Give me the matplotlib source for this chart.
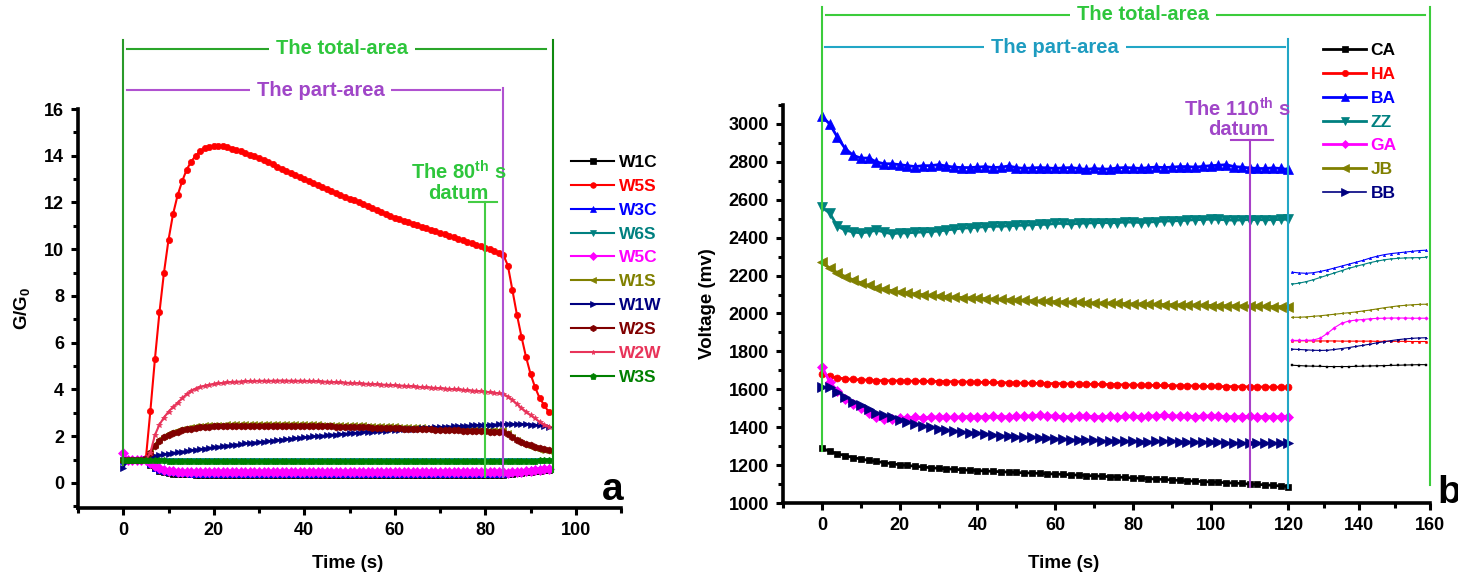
import matplotlib
matplotlib.use('Agg')
import numpy as np
import matplotlib.pyplot as plt
from matplotlib.ticker import MultipleLocator
from matplotlib import font_manager

# ---------------- fonts ----------------
try:
    font_manager.findfont('Liberation Sans Narrow:bold', fallback_to_default=False)
    NARROW = 'Liberation Sans Narrow'
    ANN_SIZE = 15.5
except ValueError:
    NARROW = 'Liberation Sans'
    ANN_SIZE = 14.5

plt.rcParams['font.family'] = ['Liberation Sans', 'DejaVu Sans']
plt.rcParams['font.weight'] = 'bold'
plt.rcParams['axes.labelweight'] = 'bold'
plt.rcParams['mathtext.fontset'] = 'custom'
plt.rcParams['mathtext.rm'] = NARROW + ':bold'
plt.rcParams['mathtext.it'] = NARROW + ':bold'
plt.rcParams['mathtext.bf'] = NARROW + ':bold'

# ============================================================
# (a) G/G0 response, sampled every second
# ============================================================
t_a = np.arange(0, 95)

W1C = [1.00, 1.00, 1.00, 1.00, 1.00, 1.00, 0.78, 0.62, 0.52, 0.46,
       0.42, 0.40, 0.39, 0.38, 0.37, 0.37, 0.36, 0.36, 0.36, 0.36,
       0.36, 0.36, 0.36, 0.36, 0.36, 0.36, 0.36, 0.36, 0.36, 0.36,
       0.36, 0.36, 0.36, 0.36, 0.36, 0.36, 0.36, 0.36, 0.36, 0.36,
       0.36, 0.36, 0.36, 0.36, 0.36, 0.36, 0.36, 0.36, 0.36, 0.36,
       0.36, 0.36, 0.36, 0.36, 0.36, 0.36, 0.36, 0.36, 0.36, 0.36,
       0.36, 0.36, 0.36, 0.36, 0.36, 0.36, 0.36, 0.36, 0.36, 0.36,
       0.36, 0.36, 0.36, 0.36, 0.36, 0.36, 0.36, 0.36, 0.36, 0.36,
       0.36, 0.36, 0.36, 0.36, 0.36, 0.38, 0.40, 0.42, 0.44, 0.46,
       0.48, 0.50, 0.52, 0.54, 0.56]
W5S = [1.00, 1.00, 1.00, 1.00, 1.00, 1.05, 3.10, 5.30, 7.30, 9.00,
       10.40, 11.50, 12.30, 12.90, 13.40, 13.75, 14.00, 14.20, 14.32, 14.39,
       14.42, 14.42, 14.40, 14.36, 14.31, 14.25, 14.19, 14.12, 14.05, 13.98,
       13.90, 13.81, 13.72, 13.63, 13.54, 13.45, 13.36, 13.27, 13.18, 13.09,
       13.00, 12.91, 12.83, 12.74, 12.66, 12.58, 12.49, 12.41, 12.33, 12.25,
       12.17, 12.09, 12.00, 11.92, 11.84, 11.76, 11.68, 11.59, 11.51, 11.43,
       11.35, 11.28, 11.21, 11.15, 11.08, 11.02, 10.96, 10.89, 10.83, 10.77,
       10.70, 10.64, 10.58, 10.51, 10.45, 10.38, 10.32, 10.25, 10.19, 10.12,
       10.06, 9.99, 9.92, 9.84, 9.76, 9.30, 8.25, 7.20, 6.26, 5.40,
       4.67, 4.10, 3.64, 3.34, 3.04]
W3C = [0.95, 1.00, 1.00, 1.00, 1.00, 1.00, 0.80, 0.66, 0.57, 0.51,
       0.47, 0.45, 0.43, 0.42, 0.41, 0.40, 0.40, 0.40, 0.40, 0.40,
       0.40, 0.40, 0.40, 0.40, 0.40, 0.40, 0.40, 0.40, 0.40, 0.40,
       0.40, 0.40, 0.40, 0.40, 0.40, 0.40, 0.40, 0.40, 0.40, 0.40,
       0.40, 0.40, 0.40, 0.40, 0.40, 0.40, 0.40, 0.40, 0.40, 0.40,
       0.40, 0.40, 0.40, 0.40, 0.40, 0.40, 0.40, 0.40, 0.40, 0.40,
       0.40, 0.40, 0.40, 0.40, 0.40, 0.40, 0.40, 0.40, 0.40, 0.40,
       0.40, 0.40, 0.40, 0.40, 0.40, 0.40, 0.40, 0.40, 0.40, 0.40,
       0.40, 0.40, 0.40, 0.40, 0.40, 0.44, 0.47, 0.50, 0.53, 0.56,
       0.58, 0.60, 0.62, 0.64, 0.65]
W6S = [1.00, 1.00, 1.00, 1.00, 1.00, 1.00, 0.98, 0.97, 0.96, 0.96,
       0.95, 0.95, 0.94, 0.94, 0.94, 0.94, 0.93, 0.93, 0.93, 0.93,
       0.93, 0.93, 0.93, 0.93, 0.93, 0.93, 0.93, 0.93, 0.93, 0.93,
       0.93, 0.93, 0.93, 0.93, 0.93, 0.93, 0.93, 0.93, 0.93, 0.93,
       0.93, 0.93, 0.93, 0.93, 0.93, 0.93, 0.93, 0.93, 0.93, 0.93,
       0.93, 0.93, 0.93, 0.93, 0.93, 0.93, 0.93, 0.93, 0.93, 0.93,
       0.93, 0.93, 0.93, 0.93, 0.93, 0.93, 0.93, 0.93, 0.93, 0.93,
       0.93, 0.93, 0.93, 0.93, 0.93, 0.93, 0.93, 0.93, 0.93, 0.93,
       0.93, 0.93, 0.93, 0.93, 0.93, 0.94, 0.94, 0.94, 0.95, 0.95,
       0.95, 0.95, 0.96, 0.96, 0.96]
W5C = [1.30, 1.00, 1.00, 1.00, 1.00, 1.00, 0.85, 0.72, 0.62, 0.56,
       0.52, 0.50, 0.48, 0.47, 0.46, 0.46, 0.45, 0.45, 0.45, 0.45,
       0.45, 0.45, 0.45, 0.45, 0.45, 0.45, 0.45, 0.45, 0.45, 0.45,
       0.45, 0.45, 0.45, 0.45, 0.45, 0.45, 0.45, 0.45, 0.45, 0.45,
       0.45, 0.45, 0.45, 0.45, 0.45, 0.45, 0.45, 0.45, 0.45, 0.45,
       0.45, 0.45, 0.45, 0.45, 0.45, 0.45, 0.45, 0.45, 0.45, 0.45,
       0.45, 0.45, 0.45, 0.45, 0.45, 0.45, 0.45, 0.45, 0.45, 0.45,
       0.45, 0.45, 0.45, 0.45, 0.45, 0.45, 0.45, 0.45, 0.45, 0.45,
       0.45, 0.45, 0.45, 0.45, 0.45, 0.43, 0.45, 0.47, 0.49, 0.51,
       0.53, 0.55, 0.57, 0.59, 0.60]
W1S = [1.00, 1.00, 1.00, 1.00, 1.00, 1.02, 1.35, 1.65, 1.87, 2.02,
       2.12, 2.20, 2.27, 2.32, 2.36, 2.40, 2.43, 2.45, 2.47, 2.48,
       2.49, 2.50, 2.50, 2.51, 2.51, 2.52, 2.52, 2.52, 2.52, 2.52,
       2.53, 2.53, 2.53, 2.53, 2.53, 2.53, 2.53, 2.53, 2.52, 2.52,
       2.52, 2.52, 2.51, 2.51, 2.50, 2.50, 2.49, 2.49, 2.48, 2.48,
       2.47, 2.47, 2.46, 2.46, 2.45, 2.45, 2.44, 2.44, 2.43, 2.43,
       2.42, 2.41, 2.41, 2.40, 2.39, 2.38, 2.38, 2.37, 2.36, 2.35,
       2.35, 2.34, 2.33, 2.33, 2.32, 2.31, 2.30, 2.30, 2.29, 2.28,
       2.28, 2.27, 2.27, 2.26, 2.26, 2.12, 1.95, 1.82, 1.71, 1.62,
       1.55, 1.48, 1.43, 1.39, 1.35]
W1W = [0.65, 1.00, 1.00, 1.00, 1.00, 1.02, 1.12, 1.17, 1.20, 1.23,
       1.26, 1.29, 1.31, 1.34, 1.37, 1.40, 1.42, 1.45, 1.47, 1.50,
       1.53, 1.55, 1.58, 1.60, 1.62, 1.64, 1.66, 1.69, 1.71, 1.73,
       1.75, 1.77, 1.79, 1.81, 1.83, 1.85, 1.87, 1.89, 1.91, 1.93,
       1.95, 1.97, 1.99, 2.00, 2.02, 2.04, 2.06, 2.07, 2.09, 2.11,
       2.12, 2.14, 2.15, 2.17, 2.18, 2.20, 2.21, 2.23, 2.24, 2.26,
       2.27, 2.28, 2.30, 2.31, 2.32, 2.33, 2.35, 2.36, 2.37, 2.38,
       2.39, 2.40, 2.41, 2.42, 2.43, 2.44, 2.45, 2.46, 2.47, 2.48,
       2.48, 2.49, 2.50, 2.51, 2.52, 2.52, 2.52, 2.52, 2.51, 2.51,
       2.50, 2.48, 2.46, 2.43, 2.40]
W2S = [1.00, 1.00, 1.00, 1.00, 1.00, 1.02, 1.30, 1.60, 1.80, 1.95,
       2.05, 2.13, 2.20, 2.25, 2.29, 2.33, 2.36, 2.38, 2.40, 2.41,
       2.42, 2.43, 2.43, 2.44, 2.44, 2.44, 2.45, 2.45, 2.45, 2.45,
       2.45, 2.45, 2.45, 2.45, 2.45, 2.45, 2.45, 2.45, 2.45, 2.45,
       2.45, 2.44, 2.44, 2.43, 2.43, 2.42, 2.42, 2.41, 2.41, 2.40,
       2.40, 2.39, 2.39, 2.38, 2.38, 2.37, 2.37, 2.36, 2.36, 2.35,
       2.35, 2.34, 2.33, 2.33, 2.32, 2.31, 2.30, 2.30, 2.29, 2.28,
       2.27, 2.27, 2.26, 2.25, 2.25, 2.24, 2.23, 2.23, 2.22, 2.21,
       2.21, 2.20, 2.20, 2.20, 2.20, 2.10, 1.96, 1.85, 1.76, 1.68,
       1.62, 1.56, 1.51, 1.47, 1.43]
W2W = [1.00, 1.00, 1.00, 1.00, 1.00, 1.00, 1.30, 2.05, 2.50, 2.80,
       3.05, 3.25, 3.43, 3.62, 3.80, 3.95, 4.04, 4.11, 4.16, 4.20,
       4.23, 4.26, 4.28, 4.30, 4.32, 4.33, 4.34, 4.35, 4.36, 4.36,
       4.37, 4.37, 4.37, 4.37, 4.38, 4.38, 4.38, 4.37, 4.37, 4.37,
       4.37, 4.36, 4.35, 4.35, 4.34, 4.33, 4.32, 4.31, 4.30, 4.29,
       4.28, 4.27, 4.26, 4.25, 4.24, 4.23, 4.22, 4.21, 4.20, 4.19,
       4.18, 4.17, 4.16, 4.14, 4.13, 4.12, 4.10, 4.09, 4.08, 4.06,
       4.05, 4.04, 4.02, 4.01, 4.00, 3.98, 3.97, 3.95, 3.94, 3.92,
       3.91, 3.88, 3.86, 3.83, 3.80, 3.70, 3.55, 3.38, 3.20, 3.05,
       2.90, 2.76, 2.62, 2.50, 2.41]
W3S = [1.00, 1.00, 1.00, 1.00, 1.00, 1.00, 0.99, 0.98, 0.97, 0.97,
       0.96, 0.96, 0.95, 0.95, 0.95, 0.95, 0.94, 0.94, 0.94, 0.94,
       0.94, 0.94, 0.94, 0.94, 0.94, 0.94, 0.94, 0.94, 0.94, 0.94,
       0.94, 0.94, 0.94, 0.94, 0.94, 0.94, 0.94, 0.94, 0.94, 0.94,
       0.94, 0.94, 0.94, 0.94, 0.94, 0.94, 0.94, 0.94, 0.94, 0.94,
       0.94, 0.94, 0.94, 0.94, 0.94, 0.94, 0.94, 0.94, 0.94, 0.94,
       0.94, 0.94, 0.94, 0.94, 0.94, 0.94, 0.94, 0.94, 0.94, 0.94,
       0.94, 0.94, 0.94, 0.94, 0.94, 0.94, 0.94, 0.94, 0.94, 0.94,
       0.94, 0.94, 0.94, 0.94, 0.94, 0.95, 0.95, 0.95, 0.96, 0.96,
       0.96, 0.96, 0.97, 0.97, 0.97]

series_a = [
    ('W1C', W1C, 'black',   's', 4.5),
    ('W5S', W5S, '#ff0000', 'o', 4.5),
    ('W3C', W3C, '#0000ff', '^', 5.0),
    ('W6S', W6S, '#008080', 'v', 5.0),
    ('W5C', W5C, '#ff00ff', 'D', 5.0),
    ('W1S', W1S, '#808000', '<', 5.0),
    ('W1W', W1W, '#000080', '>', 5.0),
    ('W2S', W2S, '#800000', 'h', 5.0),
    ('W2W', W2W, '#e8345a', '*', 4.0),
    ('W3S', W3S, '#008000', 'p', 5.0),
]

# ============================================================
# (b) voltage, sampled every 2 s up to 120 s, then the tail segment
# ============================================================
t_b = np.arange(0, 121, 2)
CA = [1290, 1272, 1260, 1250, 1240, 1232, 1225, 1219, 1213, 1207,
      1202, 1198, 1194, 1190, 1186, 1183, 1180, 1178, 1175, 1173,
      1171, 1169, 1167, 1165, 1163, 1161, 1159, 1158, 1156, 1154,
      1153, 1151, 1149, 1147, 1145, 1143, 1141, 1139, 1137, 1135,
      1132, 1130, 1128, 1126, 1124, 1122, 1119, 1117, 1115, 1113,
      1111, 1109, 1107, 1105, 1103, 1100, 1098, 1096, 1093, 1090,
      1087]
HA = [1680, 1668, 1660, 1655, 1652, 1650, 1648, 1646, 1645, 1645,
      1644, 1643, 1643, 1642, 1642, 1641, 1640, 1640, 1639, 1638,
      1637, 1636, 1636, 1635, 1634, 1633, 1632, 1632, 1631, 1630,
      1630, 1629, 1628, 1628, 1627, 1626, 1626, 1625, 1624, 1623,
      1622, 1622, 1621, 1620, 1620, 1619, 1618, 1618, 1617, 1616,
      1615, 1615, 1614, 1614, 1613, 1613, 1612, 1612, 1611, 1611,
      1610]
BA = [3040, 3000, 2930, 2870, 2835, 2820, 2820, 2800, 2790, 2790,
      2785, 2780, 2775, 2780, 2780, 2785, 2778, 2772, 2770, 2770,
      2772, 2775, 2770, 2772, 2778, 2770, 2765, 2768, 2770, 2768,
      2765, 2768, 2770, 2765, 2760, 2765, 2762, 2762, 2768, 2770,
      2768, 2765, 2770, 2772, 2770, 2772, 2775, 2775, 2772, 2776,
      2780, 2782, 2785, 2775, 2772, 2768, 2765, 2765, 2768, 2765,
      2760]
ZZ = [2560, 2530, 2460, 2440, 2430, 2425, 2430, 2440, 2430, 2420,
      2425, 2425, 2428, 2430, 2432, 2435, 2440, 2445, 2450, 2452,
      2455, 2458, 2460, 2460, 2462, 2465, 2465, 2468, 2470, 2470,
      2475, 2475, 2472, 2475, 2478, 2478, 2480, 2478, 2480, 2482,
      2482, 2480, 2482, 2485, 2488, 2488, 2490, 2492, 2495, 2495,
      2498, 2496, 2494, 2492, 2494, 2495, 2495, 2494, 2495, 2496,
      2497]
GA = [1720, 1640, 1590, 1550, 1520, 1500, 1475, 1455, 1445, 1445,
      1448, 1450, 1452, 1450, 1452, 1455, 1453, 1452, 1455, 1456,
      1455, 1455, 1458, 1456, 1455, 1457, 1458, 1460, 1462, 1460,
      1458, 1456, 1455, 1457, 1458, 1456, 1455, 1457, 1455, 1457,
      1458, 1456, 1458, 1460, 1462, 1460, 1458, 1457, 1456, 1458,
      1460, 1458, 1456, 1455, 1456, 1457, 1455, 1456, 1455, 1455,
      1455]
JB = [2270, 2240, 2215, 2195, 2178, 2162, 2148, 2137, 2128, 2120,
      2113, 2108, 2103, 2099, 2095, 2092, 2089, 2086, 2084, 2082,
      2080, 2078, 2076, 2074, 2072, 2070, 2069, 2067, 2065, 2064,
      2062, 2061, 2060, 2059, 2057, 2056, 2055, 2054, 2053, 2052,
      2050, 2050, 2049, 2048, 2047, 2046, 2045, 2045, 2044, 2043,
      2042, 2041, 2041, 2040, 2039, 2038, 2038, 2037, 2036, 2036,
      2035]
BB = [1610, 1612, 1585, 1560, 1535, 1515, 1495, 1475, 1462, 1452,
      1440, 1428, 1418, 1408, 1400, 1392, 1386, 1380, 1375, 1371,
      1368, 1364, 1360, 1356, 1353, 1350, 1348, 1346, 1344, 1342,
      1340, 1337, 1335, 1333, 1332, 1330, 1328, 1327, 1326, 1325,
      1325, 1324, 1323, 1326, 1328, 1326, 1324, 1322, 1321, 1320,
      1322, 1320, 1318, 1318, 1317, 1317, 1316, 1316, 1315, 1315,
      1314]

t_tail = np.arange(121, 160, 2)
CA_tail = [1727, 1725, 1723, 1722, 1721, 1720, 1720, 1720, 1720, 1721,
           1722, 1723, 1724, 1725, 1726, 1727, 1728, 1729, 1730, 1730]
HA_tail = [1856, 1856, 1856, 1855, 1855, 1855, 1855, 1854, 1854, 1854,
           1854, 1854, 1853, 1853, 1853, 1853, 1853, 1852, 1852, 1852]
BA_tail = [2218, 2214, 2212, 2215, 2222, 2230, 2240, 2250, 2260, 2270,
           2280, 2292, 2302, 2310, 2316, 2320, 2324, 2328, 2332, 2334]
ZZ_tail = [2155, 2160, 2168, 2178, 2190, 2202, 2214, 2226, 2238, 2248,
           2258, 2268, 2276, 2283, 2288, 2291, 2293, 2294, 2295, 2296]
GA_tail = [1858, 1858, 1858, 1860, 1870, 1895, 1925, 1948, 1960, 1965,
           1968, 1972, 1974, 1975, 1976, 1976, 1976, 1975, 1975, 1975]
JB_tail = [1980, 1980, 1982, 1985, 1988, 1992, 1996, 2000, 2004, 2008,
           2013, 2018, 2024, 2030, 2035, 2040, 2043, 2046, 2048, 2049]
BB_tail = [1812, 1810, 1808, 1806, 1805, 1806, 1810, 1815, 1820, 1826,
           1832, 1838, 1845, 1851, 1857, 1862, 1866, 1869, 1871, 1872]

series_b = [
    ('CA', CA, CA_tail, 'black',   's', 5.0, 2.0),
    ('HA', HA, HA_tail, '#ff0000', 'o', 5.0, 2.0),
    ('BA', BA, BA_tail, '#0000ff', '^', 6.5, 2.0),
    ('ZZ', ZZ, ZZ_tail, '#008080', 'v', 6.5, 2.0),
    ('GA', GA, GA_tail, '#ff00ff', 'D', 5.0, 2.0),
    ('JB', JB, JB_tail, '#808000', '<', 6.5, 2.0),
    ('BB', BB, BB_tail, '#000080', '>', 6.5, 1.2),
]

# x axis of (b) is squeezed after 120 s
BREAK, SQUEEZE = 120.0, 0.91


def fwd(x):
    x = np.asarray(x, dtype=float)
    return np.where(x <= BREAK, x, BREAK + (x - BREAK) * SQUEEZE)


def inv(x):
    x = np.asarray(x, dtype=float)
    return np.where(x <= BREAK, x, BREAK + (x - BREAK) / SQUEEZE)


# ============================================================
# figure
# ============================================================
W, H = 1458, 578
fig = plt.figure(figsize=(W / 100, H / 100), dpi=100)
ax_a = fig.add_axes([78 / W, 70 / H, 543 / W, 399 / H])
ax_b = fig.add_axes([783 / W, 75 / H, 647 / W, 398 / H])


def style_axes(ax):
    for s in ('top', 'right'):
        ax.spines[s].set_visible(False)
    for s in ('left', 'bottom'):
        ax.spines[s].set_linewidth(2.6)
    ax.tick_params(which='major', direction='out', length=5, width=2.2,
                   labelsize=13, pad=5)
    ax.tick_params(which='minor', direction='out', length=3.5, width=2.2)


def hline(ax, x0, x1, y, color, lw=1.5):
    ax.plot([x0, x1], [y, y], color=color, lw=lw, clip_on=False, zorder=6)


def vline(ax, x, y0, y1, color, lw=1.5):
    ax.plot([x, x], [y0, y1], color=color, lw=lw, clip_on=False, zorder=6)


def area_text(ax, x, y, s, color, pad=5):
    ax.text(x, y, s, color=color, fontsize=ANN_SIZE, fontweight='bold',
            family=[NARROW, 'DejaVu Sans'], ha='center', va='center',
            zorder=7, clip_on=False,
            bbox=dict(facecolor='white', edgecolor='none', pad=pad))


def legend_at(ax, x_px, y_px):
    ax.legend(loc='upper left', bbox_to_anchor=(x_px / W, 1 - y_px / H),
              bbox_transform=fig.transFigure, frameon=False, fontsize=12.5,
              handlelength=2.5, handletextpad=0.25, labelspacing=0.5,
              borderpad=0, borderaxespad=0, labelcolor='linecolor',
              markerscale=0.9)


# ---------------- panel a ----------------
for name, vals, col, mk, ms in series_a:
    ax_a.plot(t_a, vals, color=col, marker=mk, ms=ms, lw=1.5,
              markeredgewidth=0.5, label=name)

style_axes(ax_a)
ax_a.set_xlim(-10, 110)
ax_a.set_ylim(-1.07, 16)
ax_a.xaxis.set_major_locator(MultipleLocator(20))
ax_a.xaxis.set_minor_locator(MultipleLocator(10))
ax_a.yaxis.set_major_locator(MultipleLocator(2))
ax_a.yaxis.set_minor_locator(MultipleLocator(1))
ax_a.set_xlabel('Time (s)', fontsize=13.5)
ax_a.set_ylabel('G/G$_0$', fontsize=13.5)
ax_a.xaxis.set_label_coords(0.497, -0.118)
ax_a.yaxis.set_label_coords(-0.085, 0.5)

green_txt = '#2ec63c'
hline(ax_a, 0.9, 93.5, 18.57, '#2aa52a')
vline(ax_a, 0, 0.77, 18.95, '#2a9a2a')
vline(ax_a, 95, 0.47, 18.95, '#108a10')
area_text(ax_a, 48.3, 18.57, 'The total-area', green_txt)

purple = '#a046c8'
hline(ax_a, 0.9, 83.2, 16.81, '#b052d0')
vline(ax_a, 84, 0.25, 16.9, '#b052d0')
area_text(ax_a, 43.6, 16.81, 'The part-area', purple)

ax_a.text(74.1, 13.3, 'The 80$^{\\mathrm{th}}$ s', color=green_txt,
          fontsize=ANN_SIZE, family=[NARROW, 'DejaVu Sans'],
          ha='center', va='center', zorder=7)
ax_a.text(74.1, 12.4, 'datum', color=green_txt, fontsize=ANN_SIZE,
          family=[NARROW, 'DejaVu Sans'], ha='center', va='center', zorder=7)
hline(ax_a, 76.5, 82.7, 12.02, '#44cc44')
vline(ax_a, 80, 0.25, 12.02, '#44cc44')

legend_at(ax_a, 571, 155)

# ---------------- panel b ----------------
for name, vals, tail, col, mk, ms, lw in series_b:
    ax_b.plot(t_b, vals, color=col, marker=mk, ms=ms, lw=lw,
              markeredgewidth=0.5, label=name)
    ax_b.plot(t_tail, tail, color=col, marker=mk, ms=1.8, lw=0.8,
              markeredgewidth=0.3)

style_axes(ax_b)
ax_b.set_xscale('function', functions=(fwd, inv))
ax_b.set_xlim(-10, 160)
ax_b.set_ylim(1000, 3100)
ax_b.xaxis.set_major_locator(MultipleLocator(20))
ax_b.xaxis.set_minor_locator(MultipleLocator(10))
ax_b.yaxis.set_major_locator(MultipleLocator(200))
ax_b.yaxis.set_minor_locator(MultipleLocator(100))
ax_b.set_xlabel('Time (s)', fontsize=13.5)
ax_b.set_ylabel('Voltage (mv)', fontsize=13.5)
ax_b.xaxis.set_label_coords(0.434, -0.13)
ax_b.yaxis.set_label_coords(-0.104, 0.5)

green_b = '#3ccc3c'
hline(ax_b, 1.0, 158.6, 3575, green_b)
vline(ax_b, 0, 1275, 3617, green_b)
vline(ax_b, 160, 1095, 3617, green_b)
area_text(ax_b, 82.6, 3575, 'The total-area', green_txt)

cyan = '#22a6c6'
hline(ax_b, 0.8, 119.2, 3405, cyan)
vline(ax_b, 120, 1080, 3448, cyan)
area_text(ax_b, 60, 3405, 'The part-area', '#1e9cc0')

purple_b = '#a840c8'
ax_b.text(106.8, 3077, 'The 110$^{\\mathrm{th}}$ s', color=purple,
          fontsize=ANN_SIZE, family=[NARROW, 'DejaVu Sans'],
          ha='center', va='center', zorder=7)
ax_b.text(107, 2971, 'datum', color=purple, fontsize=ANN_SIZE,
          family=[NARROW, 'DejaVu Sans'], ha='center', va='center', zorder=7)
hline(ax_b, 105.3, 115.9, 2913, purple_b)
vline(ax_b, 110, 1085, 2913, purple_b)

legend_at(ax_b, 1323, 43)

# panel letters
fig.text(613 / W, 1 - 500 / H, 'a', fontsize=28, fontweight='bold',
         ha='center', va='baseline')
fig.text(1437 / W, 1 - 503 / H, 'b', fontsize=28, fontweight='bold',
         ha='left', va='baseline')

fig.savefig('out.png', dpi=100)
